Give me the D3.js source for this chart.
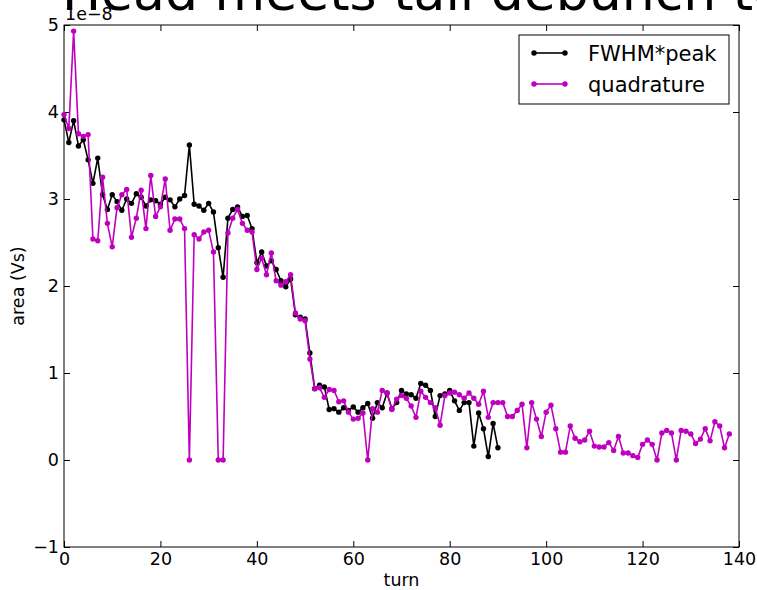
<!DOCTYPE html>
<html>
<head>
<meta charset="utf-8">
<script src="https://cdn.jsdelivr.net/npm/d3@7"></script>
<style>
  html, body { margin: 0; padding: 0; background: #fff; }
  svg { display: block; }
  text { font-family: "DejaVu Sans", sans-serif; }
</style>
</head>
<body>
<svg id="chart" width="757" height="590"></svg>
<script>
// Bunch area per turn, in units of 1e-8 Vs
const fwhmPeak = [
  3.91, 3.65, 3.90, 3.61, 3.68, 3.45, 3.18, 3.47, 3.05, 2.88,
  3.05, 2.97, 2.87, 3.00, 2.95, 3.06, 3.02, 2.92, 2.99, 2.98,
  2.94, 3.02, 2.99, 2.91, 3.00, 3.04, 3.62, 2.94, 2.92, 2.87,
  2.95, 2.85, 2.44, 2.10, 2.78, 2.88, 2.91, 2.80, 2.81, 2.66,
  2.27, 2.39, 2.23, 2.29, 2.19, 2.06, 1.99, 2.08, 1.67, 1.64,
  1.62, 1.23, 0.82, 0.86, 0.84, 0.58, 0.59, 0.55, 0.60, 0.57,
  0.61, 0.55, 0.60, 0.65, 0.48, 0.66, 0.60, 0.77, 0.59, 0.66,
  0.80, 0.76, 0.75, 0.71, 0.88, 0.86, 0.80, 0.50, 0.74, 0.76,
  0.80, 0.68, 0.57, 0.66, 0.66, 0.16, 0.54, 0.36, 0.04, 0.42,
  0.14
];

const quadrature = [
  3.97, 3.81, 4.93, 3.75, 3.72, 3.74, 2.54, 2.52, 3.25, 2.72,
  2.45, 2.90, 3.05, 3.11, 2.56, 2.78, 3.10, 2.66, 3.27, 2.80,
  2.91, 3.23, 2.64, 2.77, 2.77, 2.66, 0.00, 2.59, 2.54, 2.62,
  2.64, 2.39, 0.00, 0.00, 2.61, 2.78, 2.88, 2.72, 2.64, 2.62,
  2.19, 2.32, 2.13, 2.38, 2.06, 2.01, 2.05, 2.13, 1.69, 1.62,
  1.60, 1.16, 0.82, 0.83, 0.72, 0.81, 0.80, 0.67, 0.68, 0.55,
  0.47, 0.48, 0.54, 0.00, 0.59, 0.55, 0.80, 0.77, 0.58, 0.70,
  0.74, 0.71, 0.62, 0.49, 0.79, 0.72, 0.66, 0.60, 0.40, 0.74,
  0.77, 0.78, 0.75, 0.71, 0.77, 0.71, 0.64, 0.79, 0.49, 0.66,
  0.66, 0.66, 0.50, 0.50, 0.57, 0.64, 0.14, 0.66, 0.47, 0.27,
  0.55, 0.63, 0.36, 0.09, 0.09, 0.39, 0.25, 0.21, 0.23, 0.33,
  0.16, 0.15, 0.15, 0.20, 0.11, 0.27, 0.08, 0.08, 0.05, 0.03,
  0.18, 0.23, 0.18, 0.00, 0.31, 0.34, 0.31, 0.00, 0.34, 0.33,
  0.30, 0.19, 0.24, 0.36, 0.22, 0.44, 0.39, 0.14, 0.30
];

const xTicks = [0, 20, 40, 60, 80, 100, 120, 140];
const yTicks = [-1, 0, 1, 2, 3, 4, 5];
const seriesNames = ["FWHM*peak", "quadrature"];
const seriesColors = ["#000000", "#bf00bf"];

const svg = d3.select("#chart");
const plotLeft = 64, plotRight = 739, plotTop = 25, plotBottom = 547;

const x = d3.scaleLinear().domain([0, 140]).range([plotLeft, plotRight]);
const y = d3.scaleLinear().domain([-1, 5]).range([plotBottom, plotTop]);

// Title (runs past the top edge of the figure)
svg.append("text")
  .attr("x", 62).attr("y", 10)
  .attr("font-size", 52)
  .attr("fill", "#000")
  .text("Head meets tail debunch test");

// Axes: ticks point inward on all four sides
const tickFont = 17.5;
function styleAxis(g) {
  g.select(".domain").remove();
  g.selectAll(".tick line").attr("stroke", "#000").attr("stroke-width", 1);
  g.selectAll(".tick text").attr("font-size", tickFont).attr("fill", "#000")
    .attr("font-family", "DejaVu Sans");
}

svg.append("g").attr("transform", `translate(0,${plotBottom})`)
  .call(d3.axisBottom(x).tickValues(xTicks).tickFormat(d3.format("d"))
    .tickSizeInner(-6).tickSizeOuter(0).tickPadding(6))
  .call(styleAxis);
svg.append("g").attr("transform", `translate(0,${plotTop})`)
  .call(d3.axisTop(x).tickValues(xTicks).tickFormat("")
    .tickSizeInner(-6).tickSizeOuter(0))
  .call(styleAxis);
svg.append("g").attr("transform", `translate(${plotLeft},0)`)
  .call(d3.axisLeft(y).tickValues(yTicks).tickFormat(d3.format("d"))
    .tickSizeInner(-6).tickSizeOuter(0).tickPadding(5))
  .call(styleAxis);
svg.append("g").attr("transform", `translate(${plotRight},0)`)
  .call(d3.axisRight(y).tickValues(yTicks).tickFormat("")
    .tickSizeInner(-6).tickSizeOuter(0))
  .call(styleAxis);

// Frame
svg.append("rect")
  .attr("x", plotLeft).attr("y", plotTop)
  .attr("width", plotRight - plotLeft).attr("height", plotBottom - plotTop)
  .attr("fill", "none").attr("stroke", "#000").attr("stroke-width", 1);

// Offset label for the y scale
svg.append("text")
  .attr("x", 65).attr("y", 20)
  .attr("font-size", tickFont)
  .text("1e\u22128");

// Axis labels
svg.append("text")
  .attr("x", (plotLeft + plotRight) / 2).attr("y", 586)
  .attr("text-anchor", "middle")
  .attr("font-size", 17.5)
  .text("turn");
svg.append("text")
  .attr("transform", `translate(24,${(plotTop + plotBottom) / 2}) rotate(-90)`)
  .attr("text-anchor", "middle")
  .attr("font-size", 17.5)
  .text("area (Vs)");

// Series
const line = d3.line().x((d, i) => x(i)).y(d => y(d));
[fwhmPeak, quadrature].forEach((vals, k) => {
  const g = svg.append("g");
  g.append("path")
    .datum(vals)
    .attr("d", line)
    .attr("fill", "none")
    .attr("stroke", seriesColors[k])
    .attr("stroke-width", 1.6)
    .attr("stroke-linejoin", "round");
  g.selectAll("circle")
    .data(vals)
    .join("circle")
    .attr("cx", (d, i) => x(i))
    .attr("cy", d => y(d))
    .attr("r", 2.7)
    .attr("fill", seriesColors[k]);
});

// Legend
const lg = svg.append("g");
lg.append("rect")
  .attr("x", 519).attr("y", 35)
  .attr("width", 210).attr("height", 69)
  .attr("fill", "#fff").attr("stroke", "#000").attr("stroke-width", 1);
seriesNames.forEach((name, k) => {
  const ly = 53 + k * 31;
  lg.append("line")
    .attr("x1", 534).attr("x2", 565)
    .attr("y1", ly).attr("y2", ly)
    .attr("stroke", seriesColors[k]).attr("stroke-width", 1.6);
  [534, 565].forEach(cx => lg.append("circle")
    .attr("cx", cx).attr("cy", ly).attr("r", 2.7)
    .attr("fill", seriesColors[k]));
  lg.append("text")
    .attr("x", 588).attr("y", ly + 7.5)
    .attr("font-size", 21)
    .text(name);
});
</script>
</body>
</html>
